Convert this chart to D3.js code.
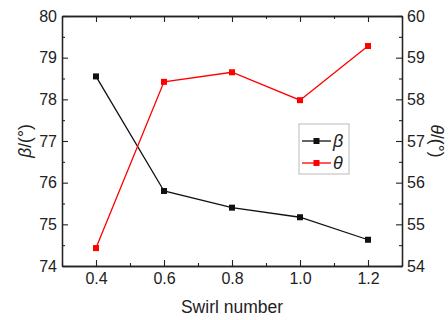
<!DOCTYPE html>
<html>
<head>
<meta charset="utf-8">
<script src="https://cdn.jsdelivr.net/npm/d3@7"></script>
<style>
  body { margin: 0; background: #fff; }
  text { font-family: "Liberation Sans", Arial, sans-serif; fill: #222; }
</style>
</head>
<body>
<div id="chart"></div>
<script>
const swirl = [0.4, 0.6, 0.8, 1.0, 1.2];
const beta = [78.55, 75.8, 75.4, 75.17, 74.63];
const theta = [54.43, 58.42, 58.65, 57.98, 59.28];
const xTicks = [0.4, 0.6, 0.8, 1.0, 1.2];
const yLeftTicks = [74, 75, 76, 77, 78, 79, 80];
const yRightTicks = [54, 55, 56, 57, 58, 59, 60];

const width = 448, height = 320;
const m = {left: 62, top: 16, right: 46, bottom: 54};
const w = width - m.left - m.right;
const h = height - m.top - m.bottom;

const svg = d3.select('#chart')
  .append('svg')
  .attr('width', width)
  .attr('height', height);

const chart = svg.append('g')
  .attr('transform', `translate(${m.left}, ${m.top})`);

const xScale = d3.scaleLinear().domain([0.3, 1.3]).range([0, w]);
const yLeft = d3.scaleLinear().domain([74, 80]).range([h, 0]);
const yRight = d3.scaleLinear().domain([54, 60]).range([h, 0]);

const minorX = d3.range(0.3, 1.31, 0.1).map(v => +v.toFixed(2)).filter(v => !xTicks.includes(v));
const minorYL = d3.range(74.5, 80, 1);
const minorYR = d3.range(54.5, 60, 1);

function styleAxis(g) {
  g.select('.domain').attr('stroke', '#222').attr('stroke-width', 1.3);
  g.selectAll('.tick line').attr('stroke', '#222').attr('stroke-width', 1.1);
  g.selectAll('.tick text').style('font-size', '16px').attr('fill', '#222');
}

// major axes (ticks pointing inward)
chart.append('g')
  .attr('transform', `translate(0, ${h})`)
  .call(d3.axisBottom(xScale).tickValues(xTicks).tickFormat(d3.format('.1f')).tickSizeInner(-6).tickSizeOuter(0).tickPadding(7))
  .call(styleAxis);
chart.append('g')
  .call(d3.axisTop(xScale).tickValues(xTicks).tickFormat('').tickSizeInner(-6).tickSizeOuter(0))
  .call(styleAxis);
chart.append('g')
  .call(d3.axisLeft(yLeft).tickValues(yLeftTicks).tickFormat(d3.format('d')).tickSizeInner(-6).tickSizeOuter(0).tickPadding(5))
  .call(styleAxis);
chart.append('g')
  .attr('transform', `translate(${w}, 0)`)
  .call(d3.axisRight(yRight).tickValues(yRightTicks).tickFormat(d3.format('d')).tickSizeInner(-6).tickSizeOuter(0).tickPadding(5))
  .call(styleAxis);

// minor ticks
chart.append('g')
  .attr('transform', `translate(0, ${h})`)
  .call(d3.axisBottom(xScale).tickValues(minorX).tickFormat('').tickSizeInner(-3).tickSizeOuter(0))
  .call(styleAxis);
chart.append('g')
  .call(d3.axisTop(xScale).tickValues(minorX).tickFormat('').tickSizeInner(-3).tickSizeOuter(0))
  .call(styleAxis);
chart.append('g')
  .call(d3.axisLeft(yLeft).tickValues(minorYL).tickFormat('').tickSizeInner(-3).tickSizeOuter(0))
  .call(styleAxis);
chart.append('g')
  .attr('transform', `translate(${w}, 0)`)
  .call(d3.axisRight(yRight).tickValues(minorYR).tickFormat('').tickSizeInner(-3).tickSizeOuter(0))
  .call(styleAxis);

// series
const series = [
  {name: 'β', values: beta, y: yLeft, color: '#111'},
  {name: 'θ', values: theta, y: yRight, color: '#ff0000'}
];

series.forEach(s => {
  const line = d3.line()
    .x((d, i) => xScale(swirl[i]))
    .y(d => s.y(d));
  chart.append('path')
    .datum(s.values)
    .attr('fill', 'none')
    .attr('stroke', s.color)
    .attr('stroke-width', 1.3)
    .attr('d', line);
  chart.selectAll(null)
    .data(s.values)
    .enter()
    .append('rect')
    .attr('x', (d, i) => xScale(swirl[i]) - 3)
    .attr('y', d => s.y(d) - 3)
    .attr('width', 6)
    .attr('height', 6)
    .attr('fill', s.color);
});

// legend
const legend = svg.append('g').attr('transform', 'translate(299, 124)');
legend.append('rect')
  .attr('width', 50).attr('height', 50)
  .attr('fill', '#fff').attr('stroke', '#bbb').attr('stroke-width', 1);
series.forEach((s, i) => {
  const ly = 17 + i * 22;
  legend.append('line')
    .attr('x1', 3).attr('x2', 32).attr('y1', ly).attr('y2', ly)
    .attr('stroke', s.color).attr('stroke-width', 1.3);
  legend.append('rect')
    .attr('x', 14.5).attr('y', ly - 3).attr('width', 6).attr('height', 6)
    .attr('fill', s.color);
  legend.append('text')
    .attr('x', 34).attr('y', ly + 6)
    .style('font-size', '18px').style('font-style', 'italic')
    .text(s.name);
});

// axis titles
svg.append('text')
  .attr('transform', `translate(${m.left + w / 2}, 313)`)
  .attr('text-anchor', 'middle')
  .style('font-size', '17.5px')
  .text('Swirl number');

const leftTitle = svg.append('text')
  .attr('transform', `translate(31, ${m.top + h / 2}) rotate(-90)`)
  .attr('text-anchor', 'middle')
  .style('font-size', '17.5px');
leftTitle.append('tspan').style('font-style', 'italic').text('β');
leftTitle.append('tspan').text('/(°)');

const rightTitle = svg.append('text')
  .attr('transform', `translate(431, ${m.top + h / 2}) rotate(90)`)
  .attr('text-anchor', 'middle')
  .style('font-size', '17.5px');
rightTitle.append('tspan').style('font-style', 'italic').text('θ');
rightTitle.append('tspan').text('/(°)');
</script>
</body>
</html>
